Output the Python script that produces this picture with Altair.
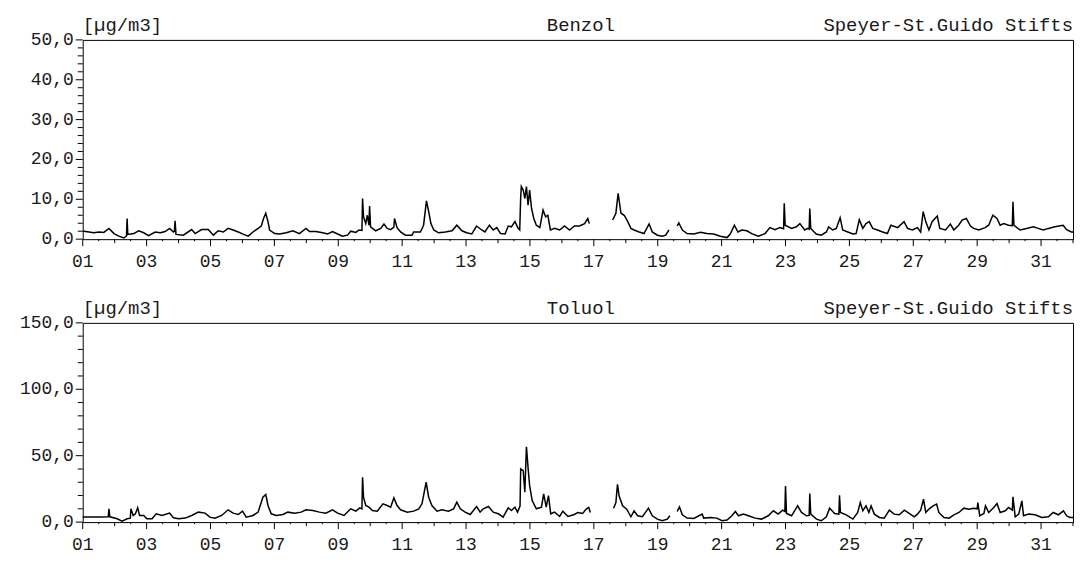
import altair as alt
import pandas as pd

# ---- Benzol (µg/m3), day of month ----
benzol_day = [1.00, 1.04, 1.35, 1.51, 1.66, 1.82, 1.98, 2.13, 2.29, 2.37, 2.39, 2.41, 2.60, 2.75, 2.91,
              3.06, 3.27, 3.43, 3.58, 3.72, 3.84, 3.87, 3.89, 3.92, 4.15, 4.41, 4.52, 4.72, 4.93,
              5.09, 5.24, 5.40, 5.55, 5.71, 5.87, 6.02, 6.18, 6.33, 6.49, 6.59, 6.66, 6.73, 6.80,
              6.85, 7.01, 7.16, 7.37, 7.58, 7.78, 7.99, 8.10, 8.30, 8.51, 8.67, 8.82, 8.98, 9.13,
              9.29, 9.39, 9.55, 9.65, 9.74, 9.76, 9.79, 9.86, 9.91, 9.96, 9.98, 10.01, 10.17,
              10.33, 10.43, 10.53, 10.64, 10.74, 10.76, 10.84, 10.95, 11.10, 11.31, 11.36, 11.57,
              11.67, 11.76, 11.83, 11.90, 11.99, 12.14, 12.35, 12.56, 12.71, 12.87, 13.02, 13.18,
              13.33, 13.49, 13.59, 13.73, 13.85, 13.96, 14.08, 14.22, 14.32, 14.42, 14.53, 14.63,
              14.68, 14.71, 14.73, 14.79, 14.84, 14.89, 14.94, 14.99, 15.05, 15.12, 15.20, 15.31,
              15.41, 15.49, 15.56, 15.64, 15.77, 15.93, 16.08, 16.24, 16.39, 16.55, 16.71, 16.81,
              16.86,
              17.59, 17.69, 17.76, 17.85, 17.95, 18.05, 18.16, 18.26, 18.42, 18.57, 18.73, 18.83,
              18.99, 19.14, 19.25, 19.35,
              19.61, 19.66, 19.77, 19.92, 20.13, 20.34, 20.54, 20.75, 20.96, 21.17, 21.27, 21.40,
              21.51, 21.63, 21.79, 21.94, 22.15, 22.36, 22.51, 22.67, 22.82, 22.94, 22.96, 22.99,
              23.19, 23.34, 23.45, 23.60, 23.70, 23.74, 23.76, 23.79, 23.96, 24.12, 24.28, 24.35,
              24.48, 24.59, 24.71, 24.79, 24.95, 25.11, 25.21, 25.31, 25.42, 25.52, 25.62, 25.73,
              25.88, 26.04, 26.19, 26.30, 26.51, 26.71, 26.82, 26.97, 27.13, 27.23, 27.31, 27.39,
              27.49, 27.59, 27.75, 27.83, 28.01, 28.16, 28.27, 28.42, 28.53, 28.66, 28.79, 28.89,
              29.05, 29.25, 29.36, 29.49, 29.62, 29.72, 29.83, 29.98, 30.10, 30.12, 30.15, 30.34,
              30.55, 30.76, 30.91, 31.07, 31.23, 31.43, 31.69, 31.80, 31.95, 32.00]
benzol_val = [2.0, 2.0, 1.6, 1.8, 1.7, 2.7, 1.4, 0.75, 0.3, 0.8, 5.2, 1.2, 1.4, 2.1, 1.6,
              0.9, 1.8, 1.6, 1.9, 2.7, 1.8, 2.0, 4.6, 1.2, 1.0, 2.4, 1.4, 2.4, 2.4,
              1.0, 2.1, 1.8, 2.7, 2.3, 1.8, 1.25, 0.75, 1.8, 2.7, 3.3, 5.2, 6.5, 4.4,
              2.3, 1.4, 1.3, 1.6, 2.1, 1.4, 2.7, 1.9, 1.9, 1.6, 1.3, 1.9, 1.3, 0.75,
              1.0, 2.0, 1.7, 2.3, 2.2, 10.2, 5.6, 3.9, 6.0, 3.5, 8.3, 3.1, 2.1,
              2.7, 3.8, 2.7, 2.4, 3.0, 5.2, 2.9, 1.8, 1.0, 1.0, 1.8, 1.8,
              3.5, 9.6, 6.9, 3.9, 2.3, 1.6, 1.8, 2.1, 3.5, 2.1, 1.6, 1.3,
              3.3, 2.3, 1.8, 3.5, 2.3, 2.9, 1.4, 1.3, 3.3, 3.1, 4.4, 2.7,
              2.3, 10.5, 13.2, 12.3, 10.2, 13.2, 8.5, 12.3, 7.7, 5.2, 3.5, 2.9,
              7.3, 5.6, 6.0, 2.3, 2.7, 2.3, 3.3, 2.3, 3.3, 3.3, 3.9, 5.2,
              3.9,
              4.8, 6.5, 11.5, 6.5, 6.0, 4.6, 2.7, 2.3, 1.8, 1.4, 3.8, 1.8,
              1.0, 0.75, 1.0, 2.3,
              3.3, 4.1, 2.3, 1.4, 1.3, 1.7, 1.4, 1.3, 0.75, 0.4, 1.3, 3.5,
              1.8, 2.3, 2.1, 1.4, 0.75, 1.4, 2.9, 2.4, 2.9, 2.6, 9.0, 3.5,
              2.7, 3.1, 3.9, 2.3, 2.7, 2.5, 7.7, 2.7, 1.3, 1.0, 1.8, 3.1,
              2.3, 2.7, 5.4, 2.3, 1.8, 1.3, 1.4, 4.9, 2.7, 3.9, 4.4, 2.7,
              2.3, 1.8, 1.4, 3.5, 2.9, 4.4, 2.7, 2.3, 2.9, 1.8, 6.9, 4.4,
              2.3, 4.4, 5.8, 2.7, 2.3, 3.8, 2.3, 3.5, 4.8, 5.2, 3.3, 2.7,
              2.3, 2.9, 3.5, 6.0, 5.2, 3.5, 3.9, 3.5, 3.4, 9.4, 3.5, 2.3,
              2.7, 3.1, 2.7, 2.3, 2.7, 3.1, 3.5, 2.4, 1.8, 1.8]

# ---- Toluol (µg/m3), day of month ----
toluol_day = [1.00, 1.25, 1.56, 1.80, 1.82, 1.85, 2.08, 2.23, 2.39, 2.49, 2.51, 2.58, 2.65, 2.72,
              2.78, 2.91, 3.01, 3.17, 3.30, 3.48, 3.72, 3.84, 4.00, 4.21, 4.41, 4.62, 4.83, 4.98,
              5.14, 5.35, 5.55, 5.71, 5.87, 6.00, 6.12, 6.33, 6.49, 6.64, 6.73, 6.80, 6.90, 7.06,
              7.27, 7.42, 7.63, 7.84, 7.99, 8.20, 8.41, 8.61, 8.82, 8.98, 9.18, 9.39, 9.55, 9.67,
              9.74, 9.76, 9.79, 9.86, 9.96, 10.07, 10.22, 10.40, 10.53, 10.64, 10.74, 10.84,
              10.95, 11.16, 11.36, 11.52, 11.62, 11.75, 11.83, 11.93, 12.09, 12.24, 12.45, 12.61,
              12.71, 12.82, 12.97, 13.13, 13.33, 13.44, 13.54, 13.70, 13.85, 14.01, 14.16, 14.32,
              14.42, 14.53, 14.61, 14.69, 14.71, 14.79, 14.84, 14.89, 14.94, 14.99, 15.07, 15.20,
              15.36, 15.43, 15.51, 15.58, 15.65, 15.77, 15.93, 16.03, 16.19, 16.39, 16.50, 16.65,
              16.76, 16.84, 16.89,
              17.62, 17.69, 17.74, 17.79, 17.90, 18.03, 18.16, 18.26, 18.37, 18.52, 18.71, 18.83,
              18.99, 19.14, 19.30, 19.38,
              19.61, 19.68, 19.77, 19.92, 20.13, 20.39, 20.44, 20.65, 20.85, 21.01, 21.17, 21.32,
              21.43, 21.53, 21.68, 21.84, 22.05, 22.25, 22.46, 22.62, 22.77, 22.91, 22.98, 23.00,
              23.03, 23.19, 23.38, 23.50, 23.66, 23.74, 23.76, 23.79, 23.97, 24.12, 24.28, 24.38,
              24.54, 24.67, 24.69, 24.72, 24.90, 25.11, 25.26, 25.34, 25.42, 25.52, 25.61, 25.68,
              25.78, 25.94, 26.09, 26.25, 26.40, 26.56, 26.72, 26.87, 27.03, 27.13, 27.23, 27.32,
              27.39, 27.49, 27.62, 27.73, 27.80, 27.96, 28.12, 28.27, 28.43, 28.58, 28.74, 28.89,
              29.00, 29.02, 29.08, 29.21, 29.26, 29.36, 29.52, 29.62, 29.72, 29.88, 29.98, 30.10,
              30.12, 30.19, 30.30, 30.40, 30.45, 30.61, 30.81, 31.02, 31.23, 31.38, 31.54, 31.70,
              31.80, 31.90, 32.00]
toluol_val = [3.75, 3.75, 3.75, 4.0, 10.0, 4.0, 2.5, 0.75, 2.5, 3.0, 10.0, 5.0, 6.25, 10.75,
              5.0, 5.0, 2.5, 2.5, 6.25, 5.0, 6.75, 3.25, 2.5, 3.0, 5.0, 7.5, 6.75, 3.75,
              3.0, 5.0, 9.25, 6.75, 5.75, 8.25, 3.75, 5.0, 7.5, 18.75, 20.75, 12.5, 6.25, 5.0,
              5.75, 7.5, 6.75, 7.5, 9.25, 8.75, 7.5, 6.75, 9.25, 6.75, 5.0, 10.0, 8.25, 10.75,
              10.0, 33.75, 18.75, 12.5, 11.25, 8.75, 8.25, 13.75, 12.5, 11.25, 18.25, 12.5,
              9.25, 7.5, 8.25, 10.0, 13.75, 30.0, 18.75, 12.5, 8.25, 9.25, 8.25, 10.0,
              15.0, 10.0, 7.5, 5.75, 11.75, 7.5, 10.0, 11.75, 7.5, 6.25, 3.75, 10.75,
              8.75, 11.25, 7.5, 12.0, 40.0, 38.75, 22.5, 56.75, 41.25, 27.5, 16.25, 10.0,
              11.25, 21.25, 11.25, 20.0, 6.25, 7.5, 4.25, 8.25, 4.25, 5.75, 7.25, 6.5,
              9.75, 11.0, 7.25,
              10.5, 14.75, 28.5, 19.75, 12.25, 9.75, 4.0, 8.5, 4.75, 4.0, 10.5, 4.75,
              2.25, 1.0, 2.25, 4.75,
              8.0, 11.5, 5.5, 3.0, 2.75, 6.0, 3.0, 3.5, 3.0, 1.0, 1.5, 4.75,
              8.0, 4.75, 6.0, 4.75, 3.0, 2.25, 4.75, 8.5, 6.0, 9.0, 8.0, 27.25,
              6.5, 4.75, 12.25, 7.25, 4.75, 5.0, 21.5, 6.0, 2.25, 1.0, 4.0, 10.5,
              6.5, 6.0, 20.25, 7.25, 5.5, 2.25, 7.25, 14.75, 8.5, 12.25, 7.25, 12.25,
              6.0, 3.5, 3.0, 9.0, 6.0, 5.5, 9.0, 6.5, 4.0, 6.0, 9.0, 17.25,
              7.25, 9.75, 12.25, 13.5, 7.25, 3.5, 3.0, 5.5, 7.25, 10.5, 9.75, 10.5,
              10.0, 14.75, 4.75, 6.5, 12.25, 7.25, 11.0, 14.0, 7.25, 8.5, 11.0, 9.0,
              19.0, 4.0, 6.0, 16.0, 4.75, 6.0, 5.5, 3.5, 4.0, 7.25, 5.5, 8.5,
              4.75, 3.5, 3.5]

gap_after = [17.2, 19.5]          # data gaps (no measurements)
unit_label = "[µg/m3]"
station = "Speyer-St.Guido Stifts"

# tick positions and tick labels
x_major = list(range(1, 32, 2))               # labelled days
x_labels = ["01", "03", "05", "07", "09", "11", "13", "15",
            "17", "19", "21", "23", "25", "27", "29", "31"]
x_day_minor = list(range(2, 33, 2))           # even days
x_half = [d + 0.5 for d in range(1, 32)]      # half-day marks
benzol_ticks = [0, 10, 20, 30, 40, 50]
benzol_labels = ["0,0", "10,0", "20,0", "30,0", "40,0", "50,0"]
toluol_ticks = [0, 50, 100, 150]
toluol_labels = ["0,0", "50,0", "100,0", "150,0"]

FONT = "Liberation Mono"
INK = "#1a1a1a"
W = 994
H = 200


def make_df(days, vals):
    df = pd.DataFrame({"day": days, "val": vals})
    df["seg"] = sum((df["day"] > g).astype(int) for g in gap_after)
    return df


def panel(days, vals, name, ymax, y_major, y_labels, minor):
    df = make_df(days, vals)
    xscale = alt.Scale(domain=[1, 32], nice=False, zero=False)
    yscale = alt.Scale(domain=[0, ymax], nice=False)
    X = lambda: alt.X("day:Q", scale=xscale, axis=None)
    Y = lambda: alt.Y("val:Q", scale=yscale, axis=None)

    line = alt.Chart(df).mark_line(color="black", strokeWidth=1.5).encode(
        x=X(), y=Y(), detail="seg:N")

    def xticks(values, length):
        return alt.Chart(pd.DataFrame({"day": values})).mark_rule(color="#000", strokeWidth=1).encode(
            x=X(), y=alt.value(H), y2=alt.value(H + length))

    def yticks(values, length):
        return alt.Chart(pd.DataFrame({"val": values})).mark_rule(color="#000", strokeWidth=1).encode(
            y=Y(), x=alt.value(-length), x2=alt.value(0))

    major = y_major[1] - y_major[0]
    y_minor = [v for v in range(0, ymax + 1, minor) if v % major != 0]
    ticks = [xticks(x_major, 7), xticks(x_day_minor, 4), xticks(x_half, 2),
             yticks(y_major, 7), yticks(y_minor, 5)]

    xlab = alt.Chart(pd.DataFrame({"day": x_major, "lab": x_labels})).mark_text(
        font=FONT, fontSize=18, color=INK, baseline="top", align="center").encode(
        x=X(), y=alt.value(H + 14), text="lab:N")
    ylab = alt.Chart(pd.DataFrame({"val": y_major, "lab": y_labels})).mark_text(
        font=FONT, fontSize=18, color=INK, baseline="middle", align="right").encode(
        y=Y(), x=alt.value(-9), text="lab:N")

    hdr = pd.DataFrame({"unit": [unit_label], "name": [name], "station": [station]})
    base = alt.Chart(hdr)
    t_unit = base.mark_text(font=FONT, fontSize=19, color=INK, baseline="alphabetic", align="left").encode(
        x=alt.value(0), y=alt.value(-9), text="unit:N")
    t_name = base.mark_text(font=FONT, fontSize=19, color=INK, baseline="alphabetic", align="center").encode(
        x=alt.value(500), y=alt.value(-9), text="name:N")
    t_stat = base.mark_text(font=FONT, fontSize=19, color=INK, baseline="alphabetic", align="right").encode(
        x=alt.value(W), y=alt.value(-9), text="station:N")
    return alt.layer(line, *ticks, xlab, ylab, t_unit, t_name, t_stat).properties(width=W, height=H)


top = panel(benzol_day, benzol_val, "Benzol", 50, benzol_ticks, benzol_labels, 2)
bottom = panel(toluol_day, toluol_val, "Toluol", 150, toluol_ticks, toluol_labels, 10)

chart = alt.vconcat(top, bottom, spacing=84, bounds="flush").properties(
    padding={"left": 11, "top": 6, "right": 0, "bottom": 0},
    background="white",
).configure_view(stroke="black", strokeWidth=1)

chart.save("out.html", embed_options={"renderer": "svg", "actions": False})
